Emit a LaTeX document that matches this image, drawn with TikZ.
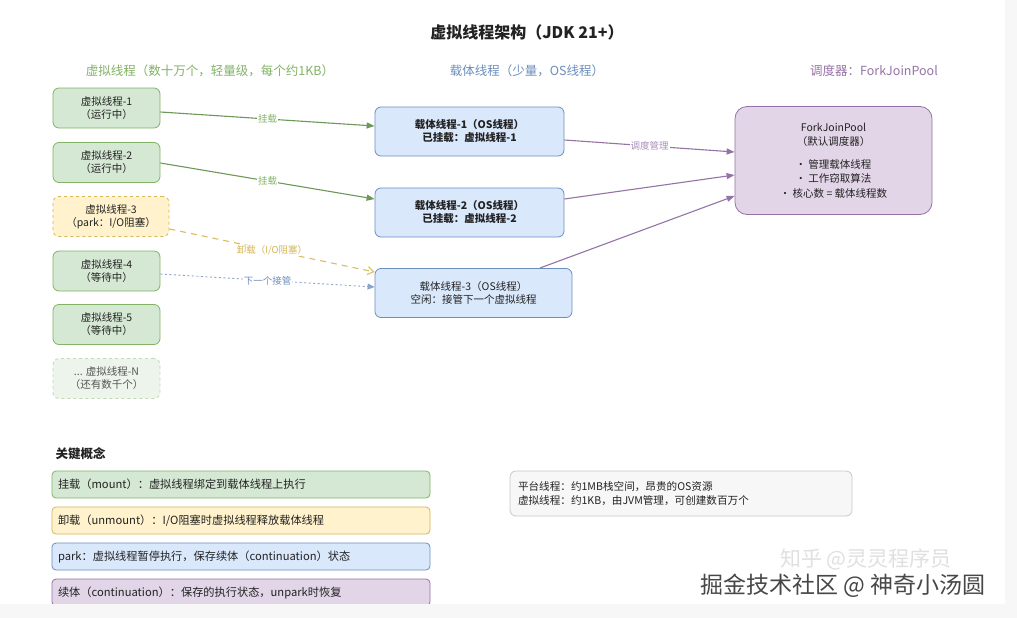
\documentclass[tikz,border=0pt]{standalone}
\usepackage{fontspec}
\setmainfont{Noto Sans CJK SC}
\usetikzlibrary{arrows.meta}
\definecolor{gS}{HTML}{82B366}\definecolor{gF}{HTML}{D5E8D4}
\definecolor{yS}{HTML}{D6B656}\definecolor{yF}{HTML}{FFF2CC}
\definecolor{bS}{HTML}{6C8EBF}\definecolor{bF}{HTML}{DAE8FC}
\definecolor{pS}{HTML}{9673A6}\definecolor{pF}{HTML}{E1D5E7}
\definecolor{nS}{HTML}{C8C8C8}\definecolor{nF}{HTML}{F7F7F7}
\definecolor{txt}{HTML}{222222}
\tikzset{
  box/.style={draw, rounded corners=6pt, line width=0.8pt, align=center, font=\fontsize{10.5}{13}\selectfont, text=txt, inner sep=2pt},
  vt/.style={box, draw=gS, fill=gF, minimum width=107pt, minimum height=40pt},
  ct/.style={box, draw=bS, fill=bF, minimum height=49pt},
  keybox/.style={draw, rounded corners=4pt, line width=0.8pt, minimum width=378pt, minimum height=27pt, text width=366pt, align=left, font=\fontsize{11.2}{13}\selectfont, text=txt},
  elabel/.style={fill=white, inner sep=1pt, font=\fontsize{9.5}{11}\selectfont},
  arr/.style={line width=1.1pt, -{Triangle[length=8pt,width=6pt]}},
  hdr/.style={font=\fontsize{12.5}{15}\selectfont},
}
\begin{document}
\begin{tikzpicture}[x=1pt,y=-1pt]
\useasboundingbox (0,0) rectangle (1017,618);
\fill[white] (0,0) rectangle (1017,618);
\fill[nF] (1005,0) rectangle (1017,618);
\fill[nF] (0,604) rectangle (1017,618);
% title and headers
\node[font=\fontsize{16}{19}\selectfont\bfseries, text=txt] (title) at (527,32) {虚拟线程架构（JDK 21+）};
\node[hdr, text=gS] (h1) at (210,71) {虚拟线程（数十万个，轻量级，每个约1KB）};
\node[hdr, text=bS] (h2) at (527,71) {载体线程（少量，OS线程）};
\node[hdr, text=pS] (h3) at (874,71) {调度器：ForkJoinPool};
% virtual threads
\node[vt] (v1) at (106.5,108) {虚拟线程-1\\（运行中）};
\node[vt] (v2) at (106.5,162.5) {虚拟线程-2\\（运行中）};
\node[vt, draw=yS, fill=yF, dashed, minimum width=116pt] (v3) at (111,216.5) {虚拟线程-3\\（park：I/O阻塞）};
\node[vt] (v4) at (106.5,271) {虚拟线程-4\\（等待中）};
\node[vt] (v5) at (106.5,324.5) {虚拟线程-5\\（等待中）};
\node[vt, opacity=0.45, text opacity=0.75, dashed] (vn) at (106.5,378.5) {... 虚拟线程-N\\（还有数千个）};
% carrier threads
\node[ct, minimum width=189pt, font=\fontsize{10.5}{13}\selectfont\bfseries] (c1) at (469.5,131.5) {载体线程-1（OS线程）\\已挂载：虚拟线程-1};
\node[ct, minimum width=189pt, font=\fontsize{10.5}{13}\selectfont\bfseries] (c2) at (469.5,212.5) {载体线程-2（OS线程）\\已挂载：虚拟线程-2};
\node[ct, minimum width=197pt] (c3) at (473.5,293) {载体线程-3（OS线程）\\空闲：接管下一个虚拟线程};
% scheduler
\node[box, draw=pS, fill=pF, minimum width=197pt, minimum height=108pt, rounded corners=12pt, font=\fontsize{10.5}{14.5}\selectfont] (fj) at (833.5,160.5) {ForkJoinPool\\（默认调度器）\\[8pt]· 管理载体线程\\· 工作窃取算法\\· 核心数 = 载体线程数};
% connectors
\coordinate (c3top) at (540,268);
\draw[arr, draw=gS!85!black] (v1.east |- 0,112) -- node[elabel, text=gS] {挂载} (c1.west |- 0,126);
\draw[arr, draw=gS!85!black] (v2.east |- 0,163) -- node[elabel, text=gS] {挂载} (c2.west |- 0,199);
\draw[line width=1.1pt, draw=yS!90!white, dashed, dash pattern=on 6pt off 5pt, -{Straight Barb[length=6pt,width=8pt]}] (v3.east |- 0,229) -- node[elabel, text=yS, font=\fontsize{9.5}{11}\selectfont\itshape] {卸载（I/O阻塞）} (c3.west |- 0,272);
\draw[line width=0.9pt, draw=bS!80!white, dash pattern=on 2pt off 2.5pt, -{Triangle[length=7pt,width=6pt]}] (v4.east |- 0,274) -- node[elabel, text=bS] {下一个接管} (c3.west |- 0,287);
\draw[arr, draw=pS] (c1.east |- 0,140) -- node[elabel, text=pS!80!white] {调度管理} (fj.west |- 0,152);
\draw[arr, draw=pS] (c2.east |- 0,199) -- (fj.west |- 0,175);
\draw[arr, draw=pS] (c3top) -- (fj.west |- 0,196);
% key concepts
\node[anchor=west, font=\fontsize{12.5}{14}\selectfont\bfseries, text=txt] (kt) at (52,454) {关键概念};
\node[keybox, draw=gS, fill=gF] (k1) at (241,484.5) {挂载（mount）：虚拟线程绑定到载体线程上执行};
\node[keybox, draw=yS, fill=yF] (k2) at (241,520.5) {卸载（unmount）：I/O阻塞时虚拟线程释放载体线程};
\node[keybox, draw=bS, fill=bF] (k3) at (241,556.5) {park：虚拟线程暂停执行，保存续体（continuation）状态};
\begin{scope}
\clip (0,0) rectangle (1017,604);
\node[keybox, draw=pS, fill=pF] (k4) at (241,592.5) {续体（continuation）：保存的执行状态，unpark时恢复};
\end{scope}
\fill[nF] (0,604) rectangle (1005,618);
% note
\node[draw=nS, fill=nF, rounded corners=6pt, line width=0.8pt, minimum width=342pt, minimum height=45pt, text width=326pt, align=left, font=\fontsize{10.6}{13.5}\selectfont, text=txt] (note) at (681,493.5) {平台线程：约1MB栈空间，昂贵的OS资源\\虚拟线程：约1KB，由JVM管理，可创建数百万个};
% watermarks
\node[font=\fontsize{21}{23}\selectfont, text=black!12] (wm1) at (866,559) {知乎 @灵灵程序员};
\node[font=\fontsize{23}{25}\selectfont, text=black!72] (wm2) at (843,586) {掘金技术社区 @ 神奇小汤圆};
\end{tikzpicture}
\end{document}
